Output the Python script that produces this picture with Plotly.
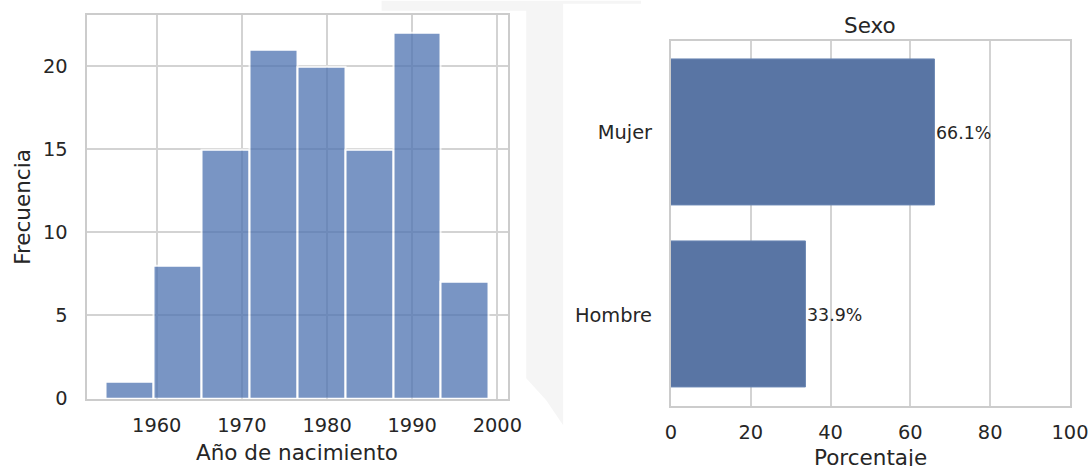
import plotly.graph_objects as go

W, H = 1089, 466

# ---- data ----
bin_edges = [1954.0, 1959.625, 1965.25, 1970.875, 1976.5, 1982.125, 1987.75, 1993.375, 1999.0]
bin_counts = [1, 8, 15, 21, 20, 15, 22, 7]
year_ticks = [1960, 1970, 1980, 1990, 2000]
freq_ticks = [0, 5, 10, 15, 20]

sexo_labels = ["Mujer", "Hombre"]
sexo_pct = [66.1, 33.9]
pct_ticks = [0, 20, 40, 60, 80, 100]

# ---- placement helpers (target picture pixel -> paper fraction) ----
SX, OX = 0.9792, 3.6
SY, OY = 0.9757, -0.8
FS = 1 / 0.978  # font compensation

def px_x(x):
    return ((x - OX) / SX) / W

def px_y(y):
    return (H - (y - OY) / SY) / H

def dom(a, b):
    return [max(0.0, min(1.0, a)), max(0.0, min(1.0, b))]

def fs(v):
    return round(v * FS, 1)

FONT = "DejaVu Sans"
TXT = "#262626"
GRID = "#d3d3d3"
FRAME = "#cccccc"

centers = [(a + b) / 2 for a, b in zip(bin_edges[:-1], bin_edges[1:])]
widths = [b - a for a, b in zip(bin_edges[:-1], bin_edges[1:])]

fig = go.Figure()
fig.add_trace(go.Bar(
    x=centers, y=bin_counts, width=widths,
    marker=dict(color="#4C72B0", line=dict(color="white", width=2)),
    opacity=0.75, xaxis="x", yaxis="y", showlegend=False,
))
fig.add_trace(go.Bar(
    x=sexo_pct, y=sexo_labels, orientation="h", width=0.8,
    marker=dict(color="#5975a4", line=dict(color="#6a86b3", width=1)),
    xaxis="x2", yaxis="y2", showlegend=False,
))

axis_common = dict(
    showgrid=True, gridcolor=GRID, gridwidth=1.5,
    showline=True, linecolor=FRAME, linewidth=2, mirror=True,
    zeroline=False, ticks="", ticklabeloverflow="allow",
    tickfont=dict(family=FONT, size=fs(19), color=TXT),
)

# faint background shape between the panels (page backdrop)
bg_pts = [(380, 0), (640, 0), (640, 3), (562, 3), (562, 425), (545, 400),
          (525, 378), (525, 10), (380, 10)]
bg_path = "M " + " L ".join(f"{px_x(x)},{px_y(y)}" for x, y in bg_pts) + " Z"

annotations = [
    dict(text="Año de nacimiento", x=px_x(295.5), y=px_y(452), xref="paper", yref="paper",
         xanchor="center", yanchor="middle", showarrow=False,
         font=dict(family=FONT, size=fs(21), color=TXT)),
    dict(text="Frecuencia", x=px_x(20), y=px_y(206), xref="paper", yref="paper",
         xanchor="center", yanchor="middle", showarrow=False, textangle=-90,
         font=dict(family=FONT, size=fs(21), color=TXT)),
    dict(text="Porcentaje", x=px_x(870), y=px_y(457), xref="paper", yref="paper",
         xanchor="center", yanchor="middle", showarrow=False,
         font=dict(family=FONT, size=fs(21), color=TXT)),
    dict(text="Sexo", x=px_x(870), y=px_y(25), xref="paper", yref="paper",
         xanchor="center", yanchor="middle", showarrow=False,
         font=dict(family=FONT, size=fs(21), color=TXT)),
]
for lab, v in zip(sexo_labels, sexo_pct):
    annotations.append(dict(
        text=f"{v:.1f}%", x=v, y=lab, xref="x2", yref="y2",
        xanchor="left", yanchor="middle", showarrow=False, xshift=-1,
        font=dict(family=FONT, size=fs(17), color=TXT),
    ))

fig.update_layout(
    width=W, height=H,
    margin=dict(l=0, r=0, t=0, b=0),
    paper_bgcolor="white", plot_bgcolor="white",
    font=dict(family=FONT, color=TXT),
    bargap=0,
    hovermode=False,
    xaxis=dict(domain=dom(px_x(84.3), px_x(506.7)), range=[1951.75, 2001.25],
               tickvals=year_ticks, ticklabelstandoff=8, anchor="y", **axis_common),
    yaxis=dict(domain=dom(px_y(398.3), px_y(14)), range=[0, 23.1],
               tickvals=freq_ticks, ticklabelstandoff=13, anchor="x", **axis_common),
    xaxis2=dict(domain=dom(px_x(670), px_x(1070)), range=[0, 100],
                tickvals=pct_ticks, ticklabelstandoff=8, anchor="y2", **axis_common),
    yaxis2=dict(domain=dom(px_y(405.7), px_y(40.7)), range=[1.5, -0.5],
                type="category", categoryorder="array", categoryarray=sexo_labels,
                ticklabelstandoff=13, anchor="x2",
                **{**axis_common, "showgrid": False}),
    shapes=[
        dict(type="path", path=bg_path, xref="paper", yref="paper",
             fillcolor="#f5f5f5", line=dict(width=0), layer="below"),
    ],
    annotations=annotations,
)

fig.write_html(
    "out.html",
    config={"displayModeBar": False},
    post_script=(
        "document.documentElement.style.margin='0';"
        "document.body.style.margin='0';"
        "document.documentElement.style.overflow='hidden';"
        "document.body.style.overflow='hidden';"
        "document.querySelectorAll('.main-svg').forEach(function(s){s.style.overflow='visible';});"
    ),
)
